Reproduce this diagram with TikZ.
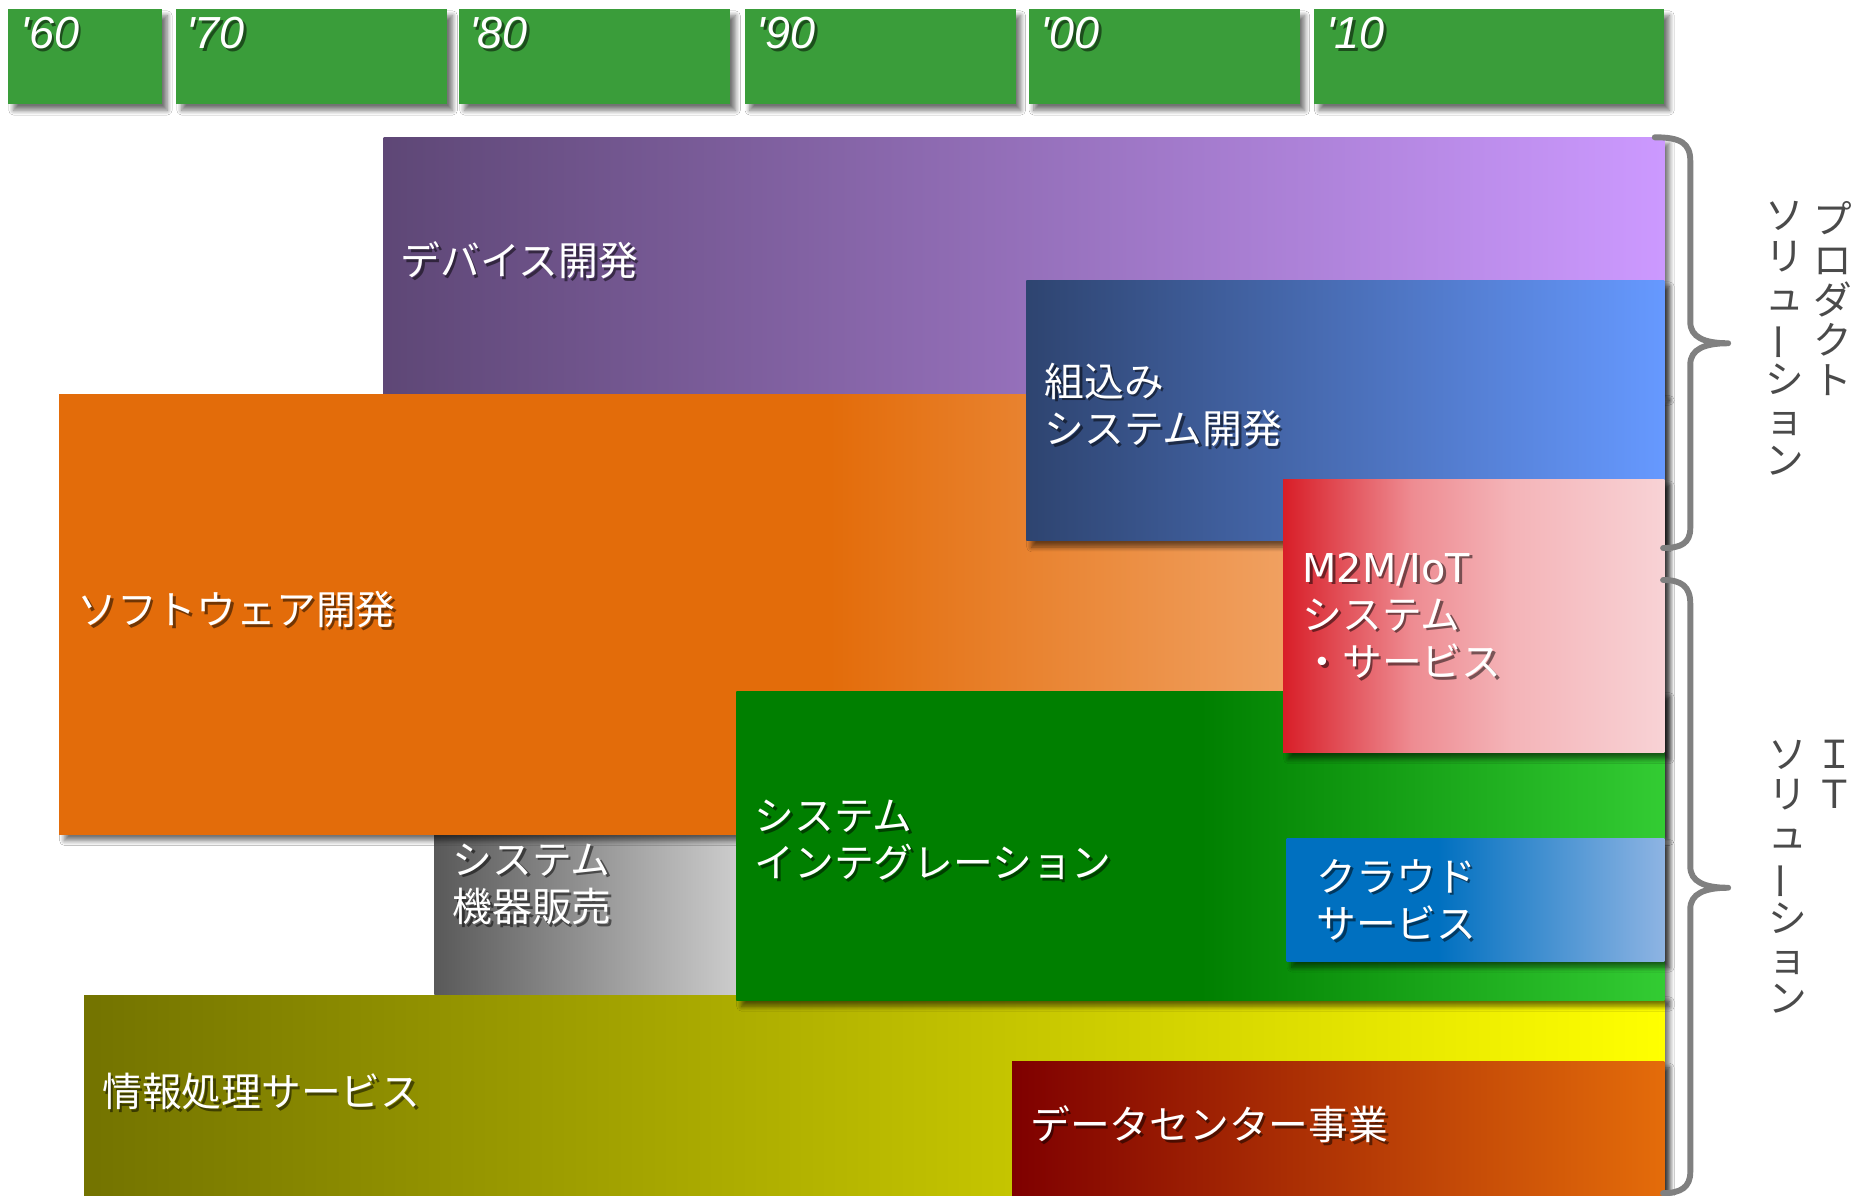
\documentclass[tikz,border=0pt]{standalone}
\usepackage{fontspec}
\usepackage{graphicx}
\usetikzlibrary{shadows.blur}
\newfontfamily\jp{Noto Sans CJK JP}
\newfontfamily\yrf{Liberation Sans}
\newfontfamily\latf{DejaVu Sans}
\newcommand\jpfont{\jp\fontsize{16.8pt}{20pt}\selectfont}
\newcommand\yrfont{\yrf\itshape\fontsize{19pt}{20pt}\selectfont}
\newcommand\vfont{\jp\fontsize{16.3pt}{17pt}\selectfont}
\newcommand\vbar{\rotatebox[origin=c]{90}{ー}}
\definecolor{yearg}{HTML}{3A9D3A}
\definecolor{purA}{HTML}{5E4776}\definecolor{purB}{HTML}{CC99FF}
\definecolor{bluA}{HTML}{2E4470}\definecolor{bluB}{HTML}{6699FF}
\definecolor{orA}{HTML}{E36C0A}\definecolor{orB}{HTML}{FBCCA9}
\definecolor{m2mA}{HTML}{D81E28}\definecolor{m2mB}{HTML}{EE8C92}\definecolor{m2mC}{HTML}{F4B4B8}\definecolor{m2mD}{HTML}{F8D2D5}
\definecolor{grA}{HTML}{007F00}\definecolor{grB}{HTML}{33CC33}
\definecolor{clA}{HTML}{0070C0}\definecolor{clB}{HTML}{8EB4E3}
\definecolor{gyA}{HTML}{595959}\definecolor{gyB}{HTML}{CCCCCC}
\definecolor{ylA}{HTML}{737300}\definecolor{ylB}{HTML}{FFFF00}
\definecolor{dcA}{HTML}{7F0000}\definecolor{dcB}{HTML}{E46C0A}
\definecolor{bracec}{HTML}{808080}
\definecolor{vtextc}{HTML}{4A4A4A}
\pgfdeclarehorizontalshading{shpur}{100bp}{color(0bp)=(purA); color(25bp)=(purA); color(75bp)=(purB); color(100bp)=(purB)}
\pgfdeclarehorizontalshading{shblu}{100bp}{color(0bp)=(bluA); color(25bp)=(bluA); color(75bp)=(bluB); color(100bp)=(bluB)}
\pgfdeclarehorizontalshading{shor}{100bp}{color(0bp)=(orA); color(25bp)=(orA); color(49bp)=(orA); color(75bp)=(orB); color(100bp)=(orB)}
\pgfdeclarehorizontalshading{shm2m}{100bp}{color(0bp)=(m2mA); color(25bp)=(m2mA); color(42bp)=(m2mB); color(55bp)=(m2mC); color(75bp)=(m2mD); color(100bp)=(m2mD)}
\pgfdeclarehorizontalshading{shgr}{100bp}{color(0bp)=(grA); color(25bp)=(grA); color(50bp)=(grA); color(75bp)=(grB); color(100bp)=(grB)}
\pgfdeclarehorizontalshading{shcl}{100bp}{color(0bp)=(clA); color(25bp)=(clA); color(45bp)=(clA); color(75bp)=(clB); color(100bp)=(clB)}
\pgfdeclarehorizontalshading{shgy}{100bp}{color(0bp)=(gyA); color(25bp)=(gyA); color(75bp)=(gyB); color(100bp)=(gyB)}
\pgfdeclarehorizontalshading{shyl}{100bp}{color(0bp)=(ylA); color(25bp)=(ylA); color(75bp)=(ylB); color(100bp)=(ylB)}
\pgfdeclarehorizontalshading{shdc}{100bp}{color(0bp)=(dcA); color(25bp)=(dcA); color(75bp)=(dcB); color(100bp)=(dcB)}
\tikzset{
  myshadow/.style={blur shadow={shadow xshift=2.2pt, shadow yshift=-2.6pt, shadow blur radius=2pt, shadow blur steps=8, shadow opacity=55}},
  bandbox/.style={shade, shading=#1, myshadow},
  yearbox/.style={fill=yearg, myshadow},
  lbl/.style={anchor=west, inner sep=0pt, align=left, text=white, font=\jpfont},
  lblsh/.style={lbl, text=black, text opacity=0.5, xshift=1.1pt, yshift=-1.1pt},
  yrlbl/.style={anchor=base west, inner sep=0pt, text=white, font=\yrfont},
  yrlblsh/.style={yrlbl, text=black, text opacity=0.5, xshift=1.1pt, yshift=-1.1pt},
  vlbl/.style={anchor=north, inner sep=0pt, align=center, text=vtextc, font=\vfont},
  bracepath/.style={draw=bracec, line width=2.5pt, line cap=round, line join=round},
}
\newcommand\lbl[3]{\node[lblsh] (#1-sh) at (#2) {#3};\node[lbl] (#1) at (#2) {#3};}
\newcommand\yrlbl[3]{\node[yrlblsh] (#1-sh) at (#2) {#3};\node[yrlbl] (#1) at (#2) {#3};}
\begin{document}
\begin{tikzpicture}[x=0.5pt, y=-0.5pt]
\useasboundingbox (0,0) rectangle (1568,1010);
\fill[white] (0,0) rectangle (1568,1010);
% year boxes
\path[yearbox] (7,8) rectangle (137,88);
\path[yearbox] (149,8) rectangle (378,88);
\path[yearbox] (388,8) rectangle (617,88);
\path[yearbox] (629,8) rectangle (858,88);
\path[yearbox] (869,8) rectangle (1098,88);
\path[yearbox] (1110,8) rectangle (1406,88);
\yrlbl{y60}{17,41}{\textquotesingle 60}
\yrlbl{y70}{157,41}{\textquotesingle 70}
\yrlbl{y80}{396,41}{\textquotesingle 80}
\yrlbl{y90}{639,41}{\textquotesingle 90}
\yrlbl{y00}{879,41}{\textquotesingle 00}
\yrlbl{y10}{1120,41}{\textquotesingle 10}
% bands
\path[bandbox=shpur] (324,116) rectangle (1406,333);
\path[bandbox=shgy] (367,705) rectangle (622,840);
\path[bandbox=shyl] (71,841) rectangle (1406,1030);
\path[bandbox=shor] (50,333) rectangle (1406,705);
\path[bandbox=shblu] (867,237) rectangle (1406,457);
\path[bandbox=shgr] (622,584) rectangle (1406,845);
\path[bandbox=shm2m] (1084,405) rectangle (1406,636);
\path[bandbox=shcl] (1087,708) rectangle (1406,812);
\path[bandbox=shdc] (855,897) rectangle (1406,1030);
% labels
\lbl{devlbl}{338,220}{デバイス開発}
\lbl{emblbl}{882,342}{組込み\\システム開発}
\lbl{swlbl}{65,515}{ソフトウェア開発}
\lbl{m2mlbl}{1100,520}{{\latf M2M/IoT}\\システム\\・サービス}
\lbl{silbl}{637,710}{システム\\インテグレーション}
\lbl{hwlbl}{382,747}{システム\\機器販売}
\lbl{cllbl}{1112,760}{クラウド\\サービス}
\lbl{iplbl}{86,922}{情報処理サービス}
\lbl{dclbl}{870,950}{データセンター事業}
% braces
\path[bracepath] (1398,116) .. controls (1420,116) and (1428,121) .. (1428,136) -- (1428,272)
  .. controls (1428,285) and (1440,290) .. (1460,290)
  .. controls (1440,290) and (1428,295) .. (1428,308) -- (1428,446)
  .. controls (1428,459) and (1420,463) .. (1405,463);
\path[bracepath] (1405,490) .. controls (1420,490) and (1428,495) .. (1428,510) -- (1428,732)
  .. controls (1428,745) and (1440,750) .. (1460,750)
  .. controls (1440,750) and (1428,755) .. (1428,768) -- (1428,990)
  .. controls (1428,1003) and (1420,1008) .. (1405,1008);
% vertical labels
\node[vlbl] (prodA) at (1548,170) {プ\\ロ\\ダ\\ク\\ト};
\node[vlbl] (prodB) at (1508,170) {ソ\\リ\\ュ\\\vbar\\シ\\ョ\\ン};
\node[vlbl] (itA) at (1550,625) {Ｉ\\Ｔ};
\node[vlbl] (itB) at (1510,625) {ソ\\リ\\ュ\\\vbar\\シ\\ョ\\ン};
\end{tikzpicture}
\end{document}
